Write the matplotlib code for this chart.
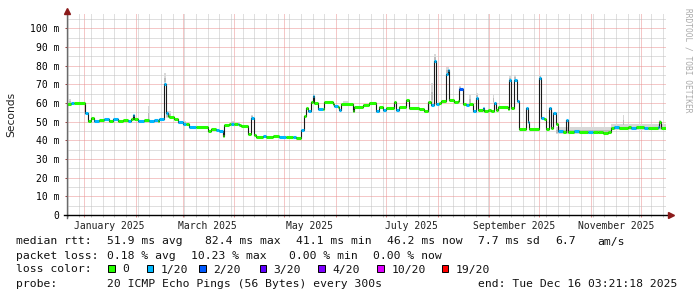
import numpy as np
import pandas as pd
import matplotlib
matplotlib.use('Agg')
import matplotlib.pyplot as plt
import matplotlib.dates as mdates
import matplotlib.transforms as mtransforms
from matplotlib.patches import Rectangle

W, H = 697, 297
MONO = 'DejaVu Sans Mono'

# median rtt (ms) from each date on, with its loss class (index in loss_colors)
med_dates = [
    '2024-12-21', '2024-12-24', '2024-12-26', '2025-01-01 12:00', '2025-01-03',
    '2025-01-05', '2025-01-07', '2025-01-10', '2025-01-13', '2025-01-16',
    '2025-01-18', '2025-01-21', '2025-01-24', '2025-01-27', '2025-01-29',
    '2025-01-30', '2025-01-31', '2025-02-02', '2025-02-06', '2025-02-09',
    '2025-02-12', '2025-02-14', '2025-02-15', '2025-02-17 18:00', '2025-02-19',
    '2025-02-20', '2025-02-21', '2025-02-24', '2025-02-26', '2025-03-01',
    '2025-03-03', '2025-03-05', '2025-03-09', '2025-03-16', '2025-03-18',
    '2025-03-21', '2025-03-23', '2025-03-25', '2025-03-26', '2025-03-29',
    '2025-03-30', '2025-04-01', '2025-04-03', '2025-04-04', '2025-04-05',
    '2025-04-09', '2025-04-11', '2025-04-13', '2025-04-14', '2025-04-18',
    '2025-04-20', '2025-04-24', '2025-04-28', '2025-05-02', '2025-05-06',
    '2025-05-08', '2025-05-11', '2025-05-13', '2025-05-14', '2025-05-15',
    '2025-05-17', '2025-05-18', '2025-05-19', '2025-05-21', '2025-05-24',
    '2025-05-25', '2025-05-30', '2025-05-31', '2025-06-02', '2025-06-03',
    '2025-06-04', '2025-06-11', '2025-06-12', '2025-06-17', '2025-06-21',
    '2025-06-25', '2025-06-27', '2025-06-29', '2025-07-01', '2025-07-06',
    '2025-07-07', '2025-07-09', '2025-07-13', '2025-07-15', '2025-07-21',
    '2025-07-24', '2025-07-26', '2025-07-28', '2025-07-30', '2025-07-31',
    '2025-08-02', '2025-08-03', '2025-08-06', '2025-08-07', '2025-08-08',
    '2025-08-11', '2025-08-13', '2025-08-14', '2025-08-16', '2025-08-18',
    '2025-08-20', '2025-08-22', '2025-08-24', '2025-08-25', '2025-08-28',
    '2025-08-29', '2025-08-31', '2025-09-02', '2025-09-04', '2025-09-05',
    '2025-09-06', '2025-09-12', '2025-09-13', '2025-09-14', '2025-09-16',
    '2025-09-17 12:00', '2025-09-18 12:00', '2025-09-23', '2025-09-24', '2025-09-25',
    '2025-10-01', '2025-10-02', '2025-10-04', '2025-10-05', '2025-10-07',
    '2025-10-08', '2025-10-09', '2025-10-11', '2025-10-12', '2025-10-15',
    '2025-10-17', '2025-10-18', '2025-10-22', '2025-10-25', '2025-10-30',
    '2025-11-02', '2025-11-05', '2025-11-08', '2025-11-11', '2025-11-13',
    '2025-11-15', '2025-11-18', '2025-11-23', '2025-11-25', '2025-11-28',
    '2025-12-03', '2025-12-05', '2025-12-11', '2025-12-12', '2025-12-13',
]
med_ms = [
    59.6, 60.2, 59.8, 54.5, 50.4,
    52.0, 50.3, 50.8, 51.2, 50.5,
    51.2, 50.6, 51.0, 50.6, 51.5,
    53.4, 51.5, 50.6, 50.8, 50.4,
    50.7, 50.3, 51.3, 70.4, 54.6,
    53.0, 52.3, 51.2, 50.0, 48.8,
    48.5, 47.0, 47.0, 45.0, 46.0,
    45.6, 44.8, 42.5, 48.2, 48.5,
    49.0, 48.5, 48.8, 48.3, 47.5,
    43.4, 52.0, 43.0, 42.0, 42.2,
    41.8, 42.3, 41.6, 41.8, 42.0,
    41.5, 45.7, 52.8, 57.3, 55.5,
    60.6, 64.0, 60.0, 56.8, 56.8,
    60.6, 59.6, 58.2, 58.0, 56.0,
    59.5, 55.5, 58.0, 59.0, 59.8,
    55.5, 58.0, 56.5, 57.3, 60.4,
    56.0, 57.7, 61.8, 57.3, 57.0,
    55.5, 60.4, 59.0, 82.4, 59.5,
    60.2, 61.3, 75.5, 77.5, 61.5,
    60.5, 61.0, 67.6, 59.6, 59.0,
    59.3, 55.5, 62.7, 56.0, 57.3,
    55.8, 56.3, 55.5, 60.0, 56.5,
    57.6, 57.0, 72.2, 57.3, 72.5,
    61.3, 46.0, 57.3, 49.6, 46.0,
    73.5, 52.0, 51.6, 46.3, 57.3,
    46.5, 54.5, 48.8, 45.0, 44.6,
    50.7, 44.3, 44.8, 44.3, 44.6,
    44.2, 44.7, 44.0, 44.5, 46.6,
    47.0, 46.8, 47.2, 46.8, 47.0,
    46.8, 46.4, 47.0, 49.6, 46.5,
]
med_loss = [
    0, 1, 0, 1, 0,
    0, 1, 0, 1, 0,
    1, 0, 0, 1, 0,
    1, 0, 1, 0, 1,
    1, 0, 1, 1, 1,
    0, 0, 0, 1, 1,
    0, 1, 0, 0, 0,
    1, 1, 0, 0, 0,
    1, 0, 1, 0, 0,
    0, 1, 0, 0, 1,
    0, 0, 1, 0, 1,
    0, 1, 0, 0, 1,
    0, 1, 0, 1, 0,
    0, 0, 1, 0, 1,
    0, 0, 0, 0, 0,
    1, 0, 1, 0, 0,
    1, 0, 0, 0, 0,
    0, 0, 1, 1, 1,
    0, 0, 1, 1, 0,
    0, 0, 2, 0, 1,
    0, 1, 1, 0, 1,
    0, 0, 0, 1, 0,
    0, 0, 1, 0, 1,
    1, 0, 1, 1, 0,
    1, 1, 0, 0, 1,
    0, 1, 0, 1, 0,
    1, 0, 1, 0, 1,
    0, 0, 0, 0, 0,
    1, 0, 0, 1, 0,
    1, 0, 1, 0, 0,
]

# grey "smoke" (spread of the 20 pings) where it is visible
smoke_from = ['2024-12-23', '2025-02-08', '2025-02-17 18:00', '2025-02-19', '2025-02-26',
              '2025-03-30', '2025-04-11', '2025-05-18', '2025-06-05', '2025-07-28',
              '2025-07-30', '2025-08-06', '2025-08-14', '2025-08-20', '2025-08-24',
              '2025-09-03', '2025-09-13', '2025-09-16', '2025-10-01', '2025-10-11',
              '2025-11-13', '2025-11-20', '2025-12-12']
smoke_to = ['2024-12-24', '2025-02-09', '2025-02-19', '2025-02-22', '2025-03-03',
            '2025-04-01', '2025-04-12', '2025-05-19', '2025-06-09', '2025-07-29',
            '2025-07-31', '2025-08-08', '2025-08-15', '2025-08-21', '2025-08-25',
            '2025-09-04', '2025-09-14', '2025-09-17', '2025-10-02', '2025-11-13',
            '2025-12-16 03:21', '2025-11-21', '2025-12-13']
smoke_lo = [59.8, 50.5, 70.4, 52.0, 48.8, 48.8, 52.0, 64.0, 59.5, 60.0,
            82.4, 75.5, 67.6, 59.3, 62.7, 60.0, 72.2, 72.5, 73.5, 43.2,
            45.4, 47.0, 49.6]
smoke_hi = [62.2, 58.2, 76.2, 55.5, 50.3, 50.2, 53.5, 65.5, 60.8, 70.8,
            86.0, 79.5, 69.0, 64.5, 65.5, 64.5, 74.5, 75.0, 74.8, 47.2,
            49.0, 53.7, 51.0]

t_start = '2024-12-21 07:00:00'
t_end = '2025-12-16 03:21:18'

loss_colors = ['#26ff00', '#00b8ff', '#0059ff', '#5e00ff', '#7e00ff', '#dd00ff', '#ff0000']
loss_labels = ['0', '1/20', '2/20', '3/20', '4/20', '10/20', '19/20']

y_ticks = [0, 10, 20, 30, 40, 50, 60, 70, 80, 90, 100]
month_labels = ['January 2025', 'March 2025', 'May 2025', 'July 2025',
                'September 2025', 'November 2025']
month_label_dates = ['2025-01-16', '2025-03-16', '2025-05-16', '2025-07-16',
                     '2025-09-16', '2025-11-16']

rtt_text = ['median rtt:', '51.9 ms avg', '82.4 ms max', '41.1 ms min',
            '46.2 ms now', '7.7 ms sd', '6.7', 'am/s']
loss_text = ['packet loss:', '0.18 % avg', '10.23 % max', '0.00 % min', '0.00 % now']
probe_text = ['probe:', '20 ICMP Echo Pings (56 Bytes) every 300s',
              'end: Tue Dec 16 03:21:18 2025']


def dnum(lst):
    return mdates.date2num(pd.to_datetime(lst, format='mixed').to_numpy())


def ftext(x, y, s, **kw):
    # place text at pixel position (x from left, y from top)
    fig.text(x / W, 1 - y / H, s, **kw)


fig = plt.figure(figsize=(W / 100, H / 100), dpi=100)
fig.patch.set_facecolor('white')
ax_l, ax_r, ax_t, ax_b = 66.5, 666.3, 13, 215
ax = fig.add_axes([ax_l / W, 1 - ax_b / H, (ax_r - ax_l) / W, (ax_b - ax_t) / H])
ax.set_facecolor('white')

x0, x1 = dnum([t_start, t_end])
ax.set_xlim(x0, x1)
ax.set_ylim(0, (ax_b - ax_t) / 1.867)
ax.xaxis_date()

# grid: grey dots weekly / every 5 ms, red dots monthly / every 10 ms
ax.xaxis.set_major_locator(mdates.MonthLocator())
ax.xaxis.set_minor_locator(mdates.WeekdayLocator(byweekday=mdates.SU))
ax.xaxis.set_major_formatter(plt.NullFormatter())
ax.set_yticks(y_ticks)
ax.set_yticks([v + 5 for v in y_ticks], minor=True)
ax.set_yticklabels(['0'] + [f'{v} m' for v in y_ticks[1:]], fontfamily=MONO, fontsize=7)
dot = (0, (1, 1))
ax.grid(which='minor', color='#c0c0c0', linestyle=dot, lw=0.72, snap=True, zorder=0)
ax.grid(which='major', color='#ea9090', linestyle=dot, lw=0.72, snap=True, zorder=0)
ax.set_axisbelow(True)
ax.tick_params(axis='y', which='major', length=1.5, width=0.7, color='#a04040', pad=3.5)
ax.tick_params(axis='y', which='minor', length=0)
ax.tick_params(axis='x', which='major', length=1.5, width=0.7, color='#e08080')
ax.tick_params(axis='x', which='minor', length=1.2, width=0.7, color='#c0c0c0')
for s in ax.spines.values():
    s.set_visible(False)

# smoke
sf, st = dnum(smoke_from), dnum(smoke_to)
for a, b, lo, hi in zip(sf, st, smoke_lo, smoke_hi):
    ax.fill_between([a, b], lo, hi, color='#d8d8d8', lw=0, zorder=2)
    span = hi - lo
    ax.fill_between([a, b], lo + 0.15 * span, hi - 0.45 * span, color='#bcbcbc', lw=0, zorder=2)

# median line
md = dnum(med_dates)
assert len(md) == len(med_ms) == len(med_loss)
ends = np.append(md[1:], x1)
ax.step(np.append(md, x1), np.append(med_ms, med_ms[-1]), where='post',
        color='#1a1a1a', lw=0.8, zorder=3)
ax.hlines(med_ms, md, ends, colors=[loss_colors[k] for k in med_loss],
          lw=2.2, capstyle='butt', zorder=4)

# axes lines with arrows
ax.plot([0, 0], [-3 / 202, 1.0], transform=ax.transAxes, clip_on=False,
        color='#6a6a6a', lw=1, zorder=5)
ax.plot([-3 / 600, 1.003], [0, 0], transform=ax.transAxes, clip_on=False,
        color='black', lw=1, zorder=5)
ax.plot([0], [1 + 2 / 202], transform=ax.transAxes, clip_on=False,
        marker='^', ms=4.5, color='#8b1a1a', zorder=6)
ax.plot([1 + 4.5 / 600], [0], transform=ax.transAxes, clip_on=False,
        marker='>', ms=4.5, color='#8b1a1a', zorder=6)

# month labels at mid month
tr = mtransforms.blended_transform_factory(ax.transData, ax.transAxes)
for d, lab in zip(dnum(month_label_dates), month_labels):
    ax.text(d, -11 / 202, lab, transform=tr, ha='center', va='center',
            fontfamily=MONO, fontsize=7, color='#202020')

ftext(11, 114, 'Seconds', rotation=90, ha='center', va='center',
      fontfamily='DejaVu Sans', fontsize=7.7, color='#202020')
ftext(688, 8, 'RRDTOOL / TOBI OETIKER', rotation=270, ha='center', va='top',
      fontfamily=MONO, fontsize=5.7, color='#aaaaaa')

# legend block, laid out on a 7 px character grid starting at x=16
fs = 8.2
CW = 7.0


def col(i):
    return 16 + CW * i


for i, s in zip([0, 13, 27, 40, 53, 66, 77, 83], rtt_text):
    ftext(col(i), 244.5, s, fontfamily=MONO, fontsize=fs, va='baseline', color='#111111')
for i, s in zip([0, 13, 25, 39, 51], loss_text):
    ftext(col(i), 259, s, fontfamily=MONO, fontsize=fs, va='baseline', color='#111111')
ftext(col(0), 272.5, 'loss color:', fontfamily=MONO, fontsize=fs, va='baseline', color='#111111')
for i, c, lab in zip([13.2, 18.7, 26.2, 34.8, 43.2, 51.6, 60.8], loss_colors, loss_labels):
    fig.add_artist(Rectangle((col(i) / W, 1 - 272 / H), 6.5 / W, 6.7 / H,
                             transform=fig.transFigure, facecolor=c,
                             edgecolor='black', lw=0.7))
    ftext(col(i + 2), 272.5, lab, fontfamily=MONO, fontsize=fs, va='baseline', color='#111111')
for i, s in zip([0, 13, 66], probe_text):
    ftext(col(i), 287, s, fontfamily=MONO, fontsize=fs, va='baseline', color='#111111')

fig.savefig('out.png', dpi=100, facecolor='white')
